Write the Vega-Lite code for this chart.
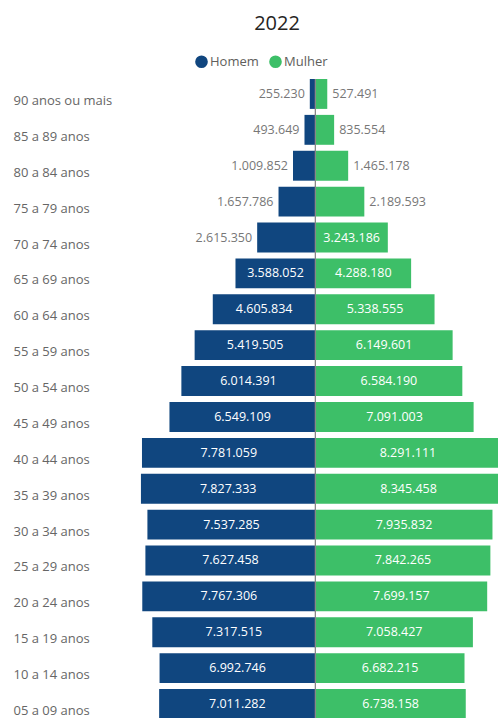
{
  "$schema": "https://vega.github.io/schema/vega-lite/v6.json",
  "autosize": {"type": "none"},
  "width": 388,
  "height": 640,
  "padding": {"left": 110, "top": 79, "right": 0, "bottom": 0},
  "background": "white",
  "title": {"text": "2022", "fontSize": 20, "font": "Open Sans", "fontWeight": "normal", "color": "#252423", "anchor": "middle", "dx": -27, "offset": 21},
  "config": {
    "view": {"stroke": null},
    "locale": {"number": {"decimal": ",", "thousands": ".", "grouping": [3], "currency": ["R$", ""]}},
    "font": "Open Sans"
  },
  "data": {"values": [
    {"faixa": "90 anos ou mais", "sexo": "Homem", "pop": 255230}, {"faixa": "90 anos ou mais", "sexo": "Mulher", "pop": 527491},
    {"faixa": "85 a 89 anos", "sexo": "Homem", "pop": 493649}, {"faixa": "85 a 89 anos", "sexo": "Mulher", "pop": 835554},
    {"faixa": "80 a 84 anos", "sexo": "Homem", "pop": 1009852}, {"faixa": "80 a 84 anos", "sexo": "Mulher", "pop": 1465178},
    {"faixa": "75 a 79 anos", "sexo": "Homem", "pop": 1657786}, {"faixa": "75 a 79 anos", "sexo": "Mulher", "pop": 2189593},
    {"faixa": "70 a 74 anos", "sexo": "Homem", "pop": 2615350}, {"faixa": "70 a 74 anos", "sexo": "Mulher", "pop": 3243186},
    {"faixa": "65 a 69 anos", "sexo": "Homem", "pop": 3588052}, {"faixa": "65 a 69 anos", "sexo": "Mulher", "pop": 4288180},
    {"faixa": "60 a 64 anos", "sexo": "Homem", "pop": 4605834}, {"faixa": "60 a 64 anos", "sexo": "Mulher", "pop": 5338555},
    {"faixa": "55 a 59 anos", "sexo": "Homem", "pop": 5419505}, {"faixa": "55 a 59 anos", "sexo": "Mulher", "pop": 6149601},
    {"faixa": "50 a 54 anos", "sexo": "Homem", "pop": 6014391}, {"faixa": "50 a 54 anos", "sexo": "Mulher", "pop": 6584190},
    {"faixa": "45 a 49 anos", "sexo": "Homem", "pop": 6549109}, {"faixa": "45 a 49 anos", "sexo": "Mulher", "pop": 7091003},
    {"faixa": "40 a 44 anos", "sexo": "Homem", "pop": 7781059}, {"faixa": "40 a 44 anos", "sexo": "Mulher", "pop": 8291111},
    {"faixa": "35 a 39 anos", "sexo": "Homem", "pop": 7827333}, {"faixa": "35 a 39 anos", "sexo": "Mulher", "pop": 8345458},
    {"faixa": "30 a 34 anos", "sexo": "Homem", "pop": 7537285}, {"faixa": "30 a 34 anos", "sexo": "Mulher", "pop": 7935832},
    {"faixa": "25 a 29 anos", "sexo": "Homem", "pop": 7627458}, {"faixa": "25 a 29 anos", "sexo": "Mulher", "pop": 7842265},
    {"faixa": "20 a 24 anos", "sexo": "Homem", "pop": 7767306}, {"faixa": "20 a 24 anos", "sexo": "Mulher", "pop": 7699157},
    {"faixa": "15 a 19 anos", "sexo": "Homem", "pop": 7317515}, {"faixa": "15 a 19 anos", "sexo": "Mulher", "pop": 7058427},
    {"faixa": "10 a 14 anos", "sexo": "Homem", "pop": 6992746}, {"faixa": "10 a 14 anos", "sexo": "Mulher", "pop": 6682215},
    {"faixa": "05 a 09 anos", "sexo": "Homem", "pop": 7011282}, {"faixa": "05 a 09 anos", "sexo": "Mulher", "pop": 6738158}
  ]},
  "transform": [
    {"calculate": "datum.sexo == 'Homem' ? -datum.pop : datum.pop", "as": "s"},
    {"calculate": "datum.s / 2", "as": "mid"}
  ],
  "encoding": {
    "y": {
      "field": "faixa", "type": "nominal", "sort": null,
      "scale": {"paddingInner": 0.1667, "paddingOuter": 0},
      "axis": {"title": null, "domain": false, "ticks": false, "tickSize": 0, "labelAlign": "left", "labelPadding": 97, "labelOffset": 7, "labelFontSize": 13, "labelColor": "#666666", "labelFont": "Open Sans"}
    }
  },
  "layer": [
    {
      "mark": {"type": "bar", "clip": true},
      "encoding": {
        "x": {"field": "s", "type": "quantitative", "stack": null, "scale": {"domain": [-9215000, 8184000], "nice": false, "zero": false}, "axis": null},
        "color": {
          "field": "sexo", "type": "nominal",
          "scale": {"domain": ["Homem", "Mulher"], "range": ["#10467f", "#3dbf68"]},
          "legend": {"title": null, "orient": "none", "direction": "horizontal", "legendX": 85, "legendY": -24, "symbolType": "circle", "symbolSize": 160, "symbolStrokeWidth": 0, "labelFontSize": 13, "labelColor": "#605e5c", "labelFont": "Open Sans", "labelOffset": 2, "columnPadding": 10}
        }
      }
    },
    {
      "mark": {"type": "rule", "color": "#888888", "strokeWidth": 1},
      "encoding": {"x": {"datum": 0, "type": "quantitative"}, "y": null}
    },
    {
      "transform": [{"filter": "datum.pop >= 3000000"}],
      "mark": {"type": "text", "color": "white", "fontSize": 12.5, "fontWeight": 500, "font": "Open Sans", "baseline": "middle", "align": "center", "clip": true},
      "encoding": {
        "x": {"field": "mid", "type": "quantitative"},
        "text": {"field": "pop", "type": "quantitative", "format": ",d"}
      }
    },
    {
      "transform": [{"filter": "datum.pop < 3000000 && datum.sexo == 'Homem'"}],
      "mark": {"type": "text", "color": "#777777", "fontSize": 12.5, "font": "Open Sans", "baseline": "middle", "align": "right", "dx": -5},
      "encoding": {
        "x": {"field": "s", "type": "quantitative"},
        "text": {"field": "pop", "type": "quantitative", "format": ",d"}
      }
    },
    {
      "transform": [{"filter": "datum.pop < 3000000 && datum.sexo == 'Mulher'"}],
      "mark": {"type": "text", "color": "#777777", "fontSize": 12.5, "font": "Open Sans", "baseline": "middle", "align": "left", "dx": 5},
      "encoding": {
        "x": {"field": "s", "type": "quantitative"},
        "text": {"field": "pop", "type": "quantitative", "format": ",d"}
      }
    }
  ]
}
